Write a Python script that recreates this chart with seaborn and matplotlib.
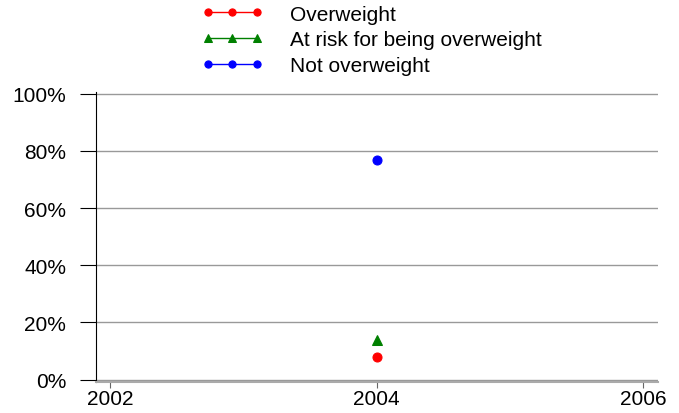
import matplotlib
matplotlib.use("Agg")
import matplotlib.pyplot as plt
import seaborn as sns
import pandas as pd
from matplotlib.ticker import PercentFormatter

sns.set_style("white")
plt.rcParams['font.family'] = ['Liberation Sans', 'DejaVu Sans']
plt.rcParams['text.color'] = 'black'
plt.rcParams['xtick.color'] = 'black'
plt.rcParams['ytick.color'] = 'black'

years = [2004]
overweight = [0.08]
at_risk = [0.14]
not_overweight = [0.77]

series = [
    ("Overweight", overweight, "red", "o", 6.5),
    ("At risk for being overweight", at_risk, "green", "^", 7),
    ("Not overweight", not_overweight, "blue", "o", 6.5),
]

fig = plt.figure(figsize=(6.79, 4.14), dpi=100)
ax = fig.add_axes([0.1414, 0.0749, 0.8276, 0.701])

for label, vals, color, marker, ms in series:
    df = pd.DataFrame({"year": years, "value": vals})
    sns.lineplot(data=df, x="year", y="value", color=color, marker=marker,
                 markersize=ms, markeredgecolor=color, linewidth=1,
                 label=label, ax=ax, legend=False)

ax.set_xlim(2001.895, 2006.11)
ax.set_ylim(-0.0084, 1.007)
ax.set_xticks([2002, 2004, 2006])
ax.set_yticks([0, 0.2, 0.4, 0.6, 0.8, 1.0])
ax.yaxis.set_major_formatter(PercentFormatter(1.0, decimals=0))
ax.set_xlabel("")
ax.set_ylabel("")

for y in [0, 0.2, 0.4, 0.6, 0.8, 1.0]:
    ax.axhline(y, color="#999999", linewidth=1, zorder=0)

for s in ["top", "right"]:
    ax.spines[s].set_visible(False)
ax.spines["left"].set_color("black")
ax.spines["left"].set_linewidth(0.8)
ax.spines["bottom"].set_color("#aaaaaa")
ax.spines["bottom"].set_linewidth(1.5)

ax.tick_params(axis="y", direction="out", length=11.5, width=0.8, color="black",
               labelsize=15, pad=10, left=True)
ax.tick_params(axis="x", direction="out", length=4, width=0.8, color="#666666",
               labelsize=15, pad=1, bottom=True)

handles, labels = ax.get_legend_handles_labels()
leg = fig.legend(handles, labels, loc="upper left", bbox_to_anchor=(0.269, 1.032),
                 frameon=False, numpoints=3, fontsize=15, handlelength=2.95,
                 handletextpad=1.32, labelspacing=0.33, markerscale=0.8)

fig.savefig("out.png", dpi=100)
